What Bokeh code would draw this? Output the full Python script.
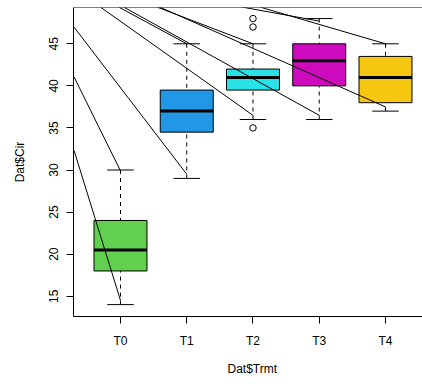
from bokeh.plotting import figure
from bokeh.models import FixedTicker, Span, Title, Range1d
from bokeh.embed import file_html
from bokeh.resources import INLINE

# ---- data ----
cats = ["T0", "T1", "T2", "T3", "T4"]
colors = ["#61D04F", "#2297E6", "#28E2E5", "#CD0BBC", "#F5C710"]
whisk_lo = [14, 29, 36, 36, 37]
q1 = [18, 34.5, 39.5, 40, 38]
med = [20.5, 37, 41, 43, 41]
q3 = [24, 39.5, 42, 45, 43.5]
whisk_hi = [30, 45, 45, 48, 45]
out_grp = [3, 3, 3]
out_val = [35, 47, 48]
# straight lines (start / end in data units)
ln_x0 = [0.3, 0.3, 0.3, 0.698, 0.974, 1.05, 1.554, 1.593, 2.84, 3.11]
ln_y0 = [32.3, 41.05, 46.97, 49.36, 49.36, 49.36, 49.36, 49.36, 49.36, 49.36]
ln_x1 = [1, 1, 2, 3, 2, 4, 3, 5, 4, 5]
ln_y1 = [14.5, 29.9, 29.5, 36.5, 45, 36.5, 45, 37.5, 47.7, 45]
y_ticks = [15, 20, 25, 30, 35, 40, 45]

FONT = "Liberation Sans"
xs = list(range(1, len(cats) + 1))
half_box = 0.4
half_cap = 0.2

y_top = 49.316
p = figure(width=422, height=386,
           x_range=Range1d(0.2906, 5.5585), y_range=Range1d(12.587, y_top),
           output_backend="svg", toolbar_location=None,
           min_border_left=73, min_border_right=0,
           min_border_top=7, min_border_bottom=70)
p.grid.visible = False
p.outline_line_color = None
p.background_fill_color = "white"
p.border_fill_color = "white"

# whiskers (dashed)
p.segment(x0=xs, y0=whisk_lo, x1=xs, y1=q1, line_color="black", line_width=1, line_dash="4 4")
p.segment(x0=xs, y0=whisk_hi, x1=xs, y1=q3, line_color="black", line_width=1, line_dash="4 4")
# staples
p.segment(x0=[x - half_cap for x in xs], y0=whisk_lo, x1=[x + half_cap for x in xs], y1=whisk_lo,
          line_color="black", line_width=1)
p.segment(x0=[x - half_cap for x in xs], y0=whisk_hi, x1=[x + half_cap for x in xs], y1=whisk_hi,
          line_color="black", line_width=1)
# boxes
p.quad(left=[x - half_box for x in xs], right=[x + half_box for x in xs], bottom=q1, top=q3,
       fill_color=colors, line_color="black", line_width=1)
# medians
p.segment(x0=[x - half_box for x in xs], y0=med, x1=[x + half_box for x in xs], y1=med,
          line_color="black", line_width=3)
# outliers
p.scatter(x=out_grp, y=out_val, marker="circle", size=6.5, fill_color=None,
          line_color="black", line_width=1)
# straight lines
p.segment(x0=ln_x0, y0=ln_y0, x1=ln_x1, y1=ln_y1, line_color="black", line_width=1)

# top border
p.add_layout(Span(location=y_top, dimension="width", line_color="black", line_width=1))

# axes
for ax in (p.xaxis[0], p.yaxis[0]):
    ax.axis_line_color = "black"
    ax.major_tick_line_color = "black"
    ax.minor_tick_line_color = None
    ax.major_tick_out = 7
    ax.major_tick_in = 0
    ax.major_label_text_font = FONT
    ax.major_label_text_font_size = "12px"
    ax.major_label_text_color = "black"
    ax.axis_label_text_font = FONT
    ax.axis_label_text_font_size = "12px"
    ax.axis_label_text_font_style = "normal"
    ax.axis_label_text_color = "black"

p.xaxis.ticker = FixedTicker(ticks=xs)
p.xaxis.major_label_overrides = {x: c for x, c in zip(xs, cats)}
p.xaxis.major_label_standoff = 10

p.yaxis.ticker = FixedTicker(ticks=y_ticks)
p.yaxis.major_label_orientation = "vertical"
p.yaxis.major_label_standoff = 8
p.yaxis.axis_label = "Dat$Cir"
p.yaxis.axis_label_standoff = 20

# x-axis title (centred on the full R plot region, which runs past the right edge)
p.add_layout(Title(text="Dat$Trmt", align="left", offset=154, standoff=19,
                   text_font=FONT, text_font_size="12px", text_font_style="normal",
                   text_color="black"), "below")

open("out.html", "w").write(file_html(p, INLINE))
